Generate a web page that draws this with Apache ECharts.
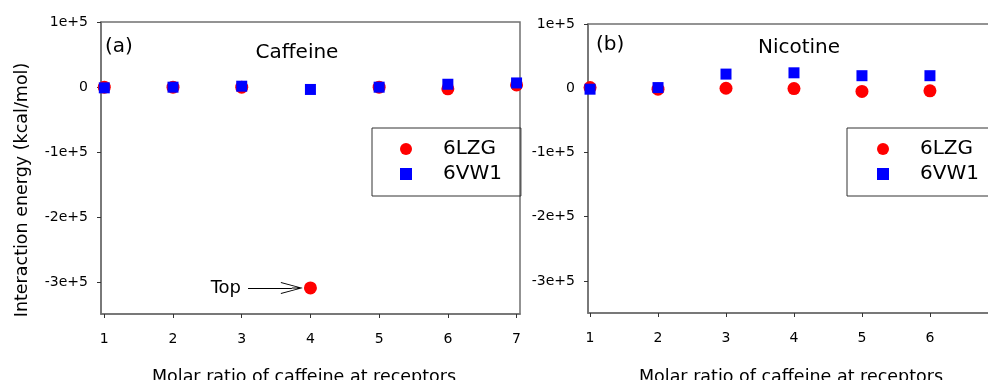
<!DOCTYPE html>
<html>
<head>
<meta charset="utf-8">
<script src="https://cdn.jsdelivr.net/npm/echarts@6/dist/echarts.min.js"></script>
<style>
html, body { margin: 0; padding: 0; background: #fff; }
#chart { width: 988px; height: 380px; }
</style>
</head>
<body>
<div id="chart"></div>
<script>
// molar ratios (x)
var ratiosA = [1, 2, 3, 4, 5, 6, 7];
var ratiosB = [1, 2, 3, 4, 5, 6];
// (a) caffeine, interaction energy in kcal/mol
var caf6LZG = [0, 0, 0, -308000, 0, -2500, 3500];
var caf6VW1 = [-1000, 0, 1500, -3500, 0, 4500, 6500];
// (b) nicotine
var nic6LZG = [1000, -1500, 0, -500, -5000, -4000];
var nic6VW1 = [-1500, 1000, 22000, 24000, 19500, 19500];
// y tick values
var yTicks = [100000, 0, -100000, -200000, -300000];
var names = ['6LZG', '6VW1'];

var FONT = 'DejaVu Sans';
var AXIS = '#707070';

function pts(xs, ys) {
    return xs.map(function (x, i) { return [x, ys[i]]; });
}

function fmtY(v) {
    return v === 0 ? '0' : (v / 100000) + 'e+5';
}

function xAxisOf(idx, min, max, ticks, gap, shift) {
    return {
        type: 'value', gridIndex: idx, min: min, max: max,
        name: 'Molar ratio of caffeine at receptors',
        nameLocation: 'middle', nameGap: gap,
        nameTextStyle: { fontFamily: FONT, fontSize: 17.5, color: '#000', padding: [0, shift, 0, 0] },
        axisLine: { show: true, onZero: false, lineStyle: { color: AXIS, width: 1.5 } },
        axisTick: { show: true, length: 4, customValues: ticks, lineStyle: { color: '#333' } },
        axisLabel: { customValues: ticks, margin: 18, fontFamily: FONT, fontSize: 14, color: '#000' },
        splitLine: { show: false }
    };
}

function yAxisOf(idx, min) {
    return {
        type: 'value', gridIndex: idx, min: min, max: 100000,
        axisLine: { show: true, onZero: false, lineStyle: { color: AXIS, width: 1.5 } },
        axisTick: { show: true, length: 4, customValues: yTicks, lineStyle: { color: '#333' } },
        axisLabel: { customValues: yTicks, margin: 13, fontFamily: FONT, fontSize: 14, color: '#000', formatter: fmtY },
        splitLine: { show: false }
    };
}

function legendOf(left, padRight, padLeft) {
    return {
        data: [{ name: names[0], icon: 'circle' }, { name: names[1], icon: 'rect' }],
        orient: 'vertical', left: left, top: 128,
        padding: [11, padRight, 12, padLeft],
        itemGap: 5, itemWidth: 12, itemHeight: 12,
        borderColor: '#333', borderWidth: 1,
        selectedMode: false,
        textStyle: { fontFamily: FONT, fontSize: 20, color: '#000', lineHeight: 20, padding: [0, 0, 0, 26] }
    };
}

function label(text, x, y, size, align, rot) {
    return {
        type: 'text', x: x, y: y, rotation: rot || 0, silent: true,
        style: { text: text, fontFamily: FONT, fontSize: size, fill: '#000', align: align, verticalAlign: 'middle' }
    };
}

// open arrow head, tip at the top; the symbol sits centred on the line end
var arrowHead = 'path://M0,22 L6,0 L12,22 L11,22 L6,3 L1,22 Z M5.5,1 L6.5,1 L6.5,11 L5.5,11 Z';

var chart = echarts.init(document.getElementById('chart'), null, { renderer: 'canvas' });
chart.setOption({
    animation: false,
    backgroundColor: '#fff',
    grid: [
        { left: 101, top: 22, width: 419, height: 292, show: true, borderColor: AXIS, borderWidth: 1.5, outerBoundsMode: 'none', containLabel: false },
        { left: 588, top: 24, width: 414, height: 289, show: true, borderColor: AXIS, borderWidth: 1.5, outerBoundsMode: 'none', containLabel: false }
    ],
    xAxis: [
        xAxisOf(0, 0.952, 7.05, ratiosA, 54, 13),
        xAxisOf(1, 0.97, 7.06, ratiosB, 55, 8)
    ],
    yAxis: [yAxisOf(0, -348000), yAxisOf(1, -350000)],
    legend: [legendOf(372, 19, 28), legendOf(847, 80, 30)],
    graphic: [
        label('(a)', 105, 47, 20, 'left'),
        label('Caffeine', 297, 53, 20, 'center'),
        label('(b)', 596, 45, 20, 'left'),
        label('Nicotine', 799, 48, 20, 'center'),
        label('Interaction energy (kcal/mol)', 22, 190, 17.5, 'center', Math.PI / 2)
    ],
    series: [
        {
            name: names[0], type: 'scatter', xAxisIndex: 0, yAxisIndex: 0,
            symbol: 'circle', symbolSize: 13, itemStyle: { color: '#ff0000', opacity: 1 },
            data: pts(ratiosA, caf6LZG),
            markLine: {
                silent: true, animation: false,
                symbol: ['none', arrowHead], symbolSize: [12, 22],
                lineStyle: { color: '#000', width: 1, type: 'solid' },
                label: { show: true, position: 'start', formatter: 'Top', distance: 7, padding: [0, 0, 7, 0], fontFamily: FONT, fontSize: 18, color: '#000' },
                data: [[{ coord: [3.092, -308000] }, { coord: [3.73, -308000] }]]
            }
        },
        {
            name: names[1], type: 'scatter', xAxisIndex: 0, yAxisIndex: 0,
            symbol: 'rect', symbolSize: 11, itemStyle: { color: '#0000ff', opacity: 1 },
            data: pts(ratiosA, caf6VW1)
        },
        {
            name: names[0], type: 'scatter', xAxisIndex: 1, yAxisIndex: 1,
            symbol: 'circle', symbolSize: 13, itemStyle: { color: '#ff0000', opacity: 1 },
            data: pts(ratiosB, nic6LZG)
        },
        {
            name: names[1], type: 'scatter', xAxisIndex: 1, yAxisIndex: 1,
            symbol: 'rect', symbolSize: 11, itemStyle: { color: '#0000ff', opacity: 1 },
            data: pts(ratiosB, nic6VW1)
        }
    ]
});
</script>
</body>
</html>
